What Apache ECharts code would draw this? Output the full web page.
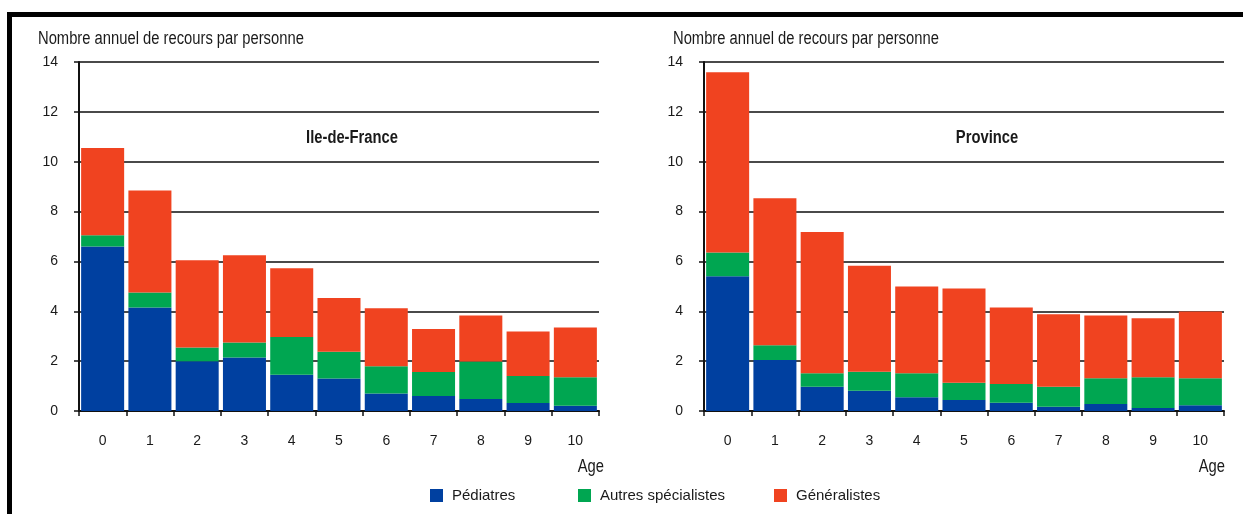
<!DOCTYPE html>
<html>
<head>
<meta charset="utf-8">
<script src="https://cdn.jsdelivr.net/npm/echarts@6/dist/echarts.min.js"></script>
<style>
  html, body { margin: 0; padding: 0; background: #ffffff; }
  #chart { width: 1243px; height: 514px; }
</style>
</head>
<body>
<div id="chart"></div>
<script>
// ---- Data ----
const ages = ['0', '1', '2', '3', '4', '5', '6', '7', '8', '9', '10'];
const yTicks = [0, 2, 4, 6, 8, 10, 12, 14];
const seriesNames = ['Pédiatres', 'Autres spécialistes', 'Généralistes'];

const idfPediatres     = [6.60, 4.15, 2.00, 2.15, 1.45, 1.30, 0.70, 0.60, 0.48, 0.32, 0.21];
const idfAutres        = [0.45, 0.60, 0.55, 0.60, 1.52, 1.08, 1.10, 0.96, 1.51, 1.08, 1.14];
const idfGeneralistes  = [3.50, 4.10, 3.50, 3.50, 2.76, 2.15, 2.32, 1.73, 1.84, 1.79, 2.00];

const provPediatres    = [5.41, 2.05, 0.97, 0.81, 0.55, 0.44, 0.33, 0.17, 0.28, 0.12, 0.23];
const provAutres       = [0.95, 0.59, 0.54, 0.76, 0.96, 0.69, 0.75, 0.80, 1.03, 1.23, 1.08];
const provGeneralistes = [7.23, 5.89, 5.67, 4.26, 3.48, 3.78, 3.07, 2.91, 2.52, 2.37, 2.68];

const panelTitles = ['Ile-de-France', 'Province'];
const yAxisTitle = 'Nombre annuel de recours par personne';
const xAxisTitle = 'Age';

// ---- Style ----
const FONT = "'Liberation Sans', Arial, sans-serif";
const TEXT = '#1a1a1a';
const COLORS = ['#0040A0', '#00A651', '#F04320'];
const NARROW = 0.82;

const chart = echarts.init(document.getElementById('chart'), null, { renderer: 'canvas' });

const grids = [
  { left: 79, right: 644, top: 62, bottom: 103 },
  { left: 704, right: 19, top: 62, bottom: 103 }
];

function xAxisFor(i) {
  return {
    type: 'category', gridIndex: i, data: ages,
    boundaryGap: true,
    axisLine: { show: true, lineStyle: { color: '#111', width: 2 } },
    axisTick: { show: true, length: 5, lineStyle: { color: '#111', width: 1.5 } },
    axisLabel: { margin: 23, fontFamily: FONT, fontSize: 14, color: TEXT },
    splitLine: { show: false }
  };
}
function yAxisFor(i) {
  return {
    type: 'value', gridIndex: i, min: 0, max: 14, interval: 2,
    axisLine: { show: true, lineStyle: { color: '#111', width: 2 } },
    axisTick: { show: true, length: 5, lineStyle: { color: '#111', width: 1.5 } },
    axisLabel: {
      margin: 21, fontFamily: FONT, fontSize: 14, color: TEXT,
      formatter: v => (yTicks.indexOf(v) >= 0 ? String(v) : '')
    },
    splitLine: { show: true, lineStyle: { color: '#4a4a4a', width: 2 } }
  };
}

const panelData = [
  [idfPediatres, idfAutres, idfGeneralistes],
  [provPediatres, provAutres, provGeneralistes]
];

const series = [];
panelData.forEach((arrs, p) => {
  arrs.forEach((arr, s) => {
    series.push({
      name: seriesNames[s], type: 'bar', stack: 'panel' + p,
      xAxisIndex: p, yAxisIndex: p, data: arr,
      barCategoryGap: '9%',
      itemStyle: { color: COLORS[s] },
      emphasis: { disabled: true },
      animation: false
    });
  });
});

const legendLefts = [430, 578, 774];
const legends = seriesNames.map((n, i) => ({
  data: [n], left: legendLefts[i], top: 488, padding: 0,
  icon: 'rect', itemWidth: 13, itemHeight: 13,
  textStyle: { fontFamily: FONT, fontSize: 15, color: TEXT, padding: [0, 0, 0, 4] },
  selectedMode: false
}));

const textEl = (text, x, y, align, opts) => ({
  type: 'text', x: x, y: y, scaleX: NARROW, scaleY: 1,
  style: Object.assign({
    text: text, x: 0, y: 0, textAlign: align, textVerticalAlign: 'middle',
    fontFamily: FONT, fontSize: 18, fill: TEXT
  }, opts || {})
});

chart.setOption({
  animation: false,
  grid: grids,
  xAxis: [xAxisFor(0), xAxisFor(1)],
  yAxis: [yAxisFor(0), yAxisFor(1)],
  legend: legends,
  series: series,
  graphic: [
    { type: 'rect', shape: { x: 7, y: 12, width: 1236, height: 5 }, style: { fill: '#000' } },
    { type: 'rect', shape: { x: 7, y: 12, width: 5, height: 502 }, style: { fill: '#000' } },
    textEl(yAxisTitle, 38, 39, 'left'),
    textEl(yAxisTitle, 673, 39, 'left'),
    textEl(panelTitles[0], 352, 138, 'center', { fontWeight: 'bold' }),
    textEl(panelTitles[1], 987, 138, 'center', { fontWeight: 'bold' }),
    textEl(xAxisTitle, 604, 467, 'right'),
    textEl(xAxisTitle, 1225, 467, 'right')
  ]
});
</script>
</body>
</html>
